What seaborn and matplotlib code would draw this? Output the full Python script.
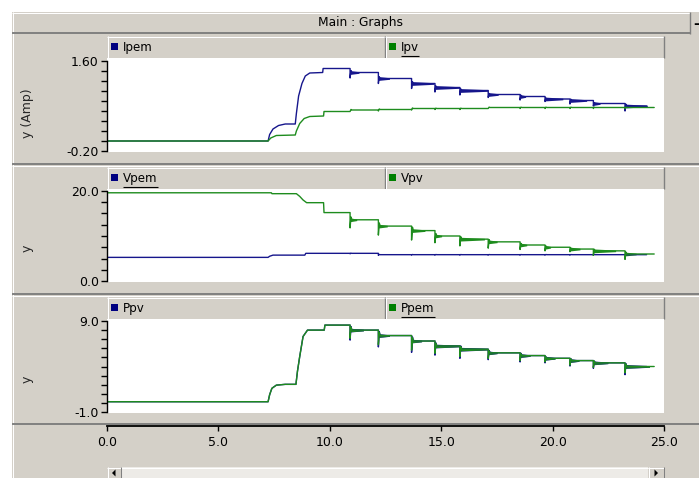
import numpy as np
import pandas as pd
import matplotlib
matplotlib.use("Agg")
import matplotlib.pyplot as plt
import seaborn as sns
from matplotlib.patches import Rectangle, Polygon

sns.set_style("white")
plt.rcParams["font.family"] = ["DejaVu Sans"]

# ---------------------------------------------------------------- data
# MPPT step instants (s) after start-up
STEP_T = [10.91, 12.18, 13.67, 14.72, 15.84, 17.11, 18.54, 19.66, 20.78, 21.83, 23.25]
END_BLUE = 24.22
END_GREEN = 24.56

# Currents (A)
IPEM_T0 = [0.0, 0.02, 7.23, 7.30, 7.45, 7.70, 8.00, 8.45, 8.50, 8.60, 8.75, 8.90, 9.10, 9.68, 9.70]
IPEM_V0 = [0.06, 0.00, 0.00, 0.13, 0.24, 0.31, 0.34, 0.34, 0.55, 0.90, 1.15, 1.30, 1.36, 1.37, 1.45]
IPEM_LV = [1.37, 1.25, 1.15, 1.07, 1.01, 0.93, 0.89, 0.84, 0.81, 0.75, 0.70]
IPEM_SP = [0.11, 0.10, 0.10, 0.09, 0.09, 0.06, 0.07, 0.05, 0.07, 0.05, 0.10]
IPEM_RP = [0.4, 0.5, 1.0, 1.1, 1.25, 0.45, 0.25, 0.8, 0.75, 0.3, 1.0]

IPV_T0 = [0.0, 7.23, 7.35, 7.60, 8.45, 8.50, 8.65, 8.85, 9.10, 9.72, 9.74]
IPV_V0 = [0.00, 0.00, 0.06, 0.11, 0.12, 0.20, 0.35, 0.45, 0.49, 0.50, 0.59]
IPV_LV = [0.62, 0.63, 0.65, 0.65, 0.65, 0.67, 0.67, 0.67, 0.67, 0.67, 0.67]
IPV_SP = [0.03, 0.03, 0.03, 0.02, 0.02, 0.02, 0.02, 0.02, 0.02, 0.02, 0.02]

# Voltages (V)
VPV_T0 = [0.0, 7.38, 7.40, 8.50, 8.65, 8.80, 8.96, 9.72, 9.74]
VPV_V0 = [19.6, 19.6, 19.4, 19.4, 18.8, 18.0, 17.4, 17.4, 15.2]
VPV_LV = [13.6, 12.2, 11.2, 10.0, 9.3, 8.7, 8.0, 7.5, 7.1, 6.7, 6.0]
VPV_SP = [1.8, 2.0, 2.1, 1.5, 1.5, 1.4, 1.0, 0.8, 0.6, 1.0, 1.2]
VPV_RP = [0.3, 0.4, 0.6, 0.3, 1.1, 0.4, 0.3, 0.25, 0.45, 1.0, 0.5]

VPEM_T0 = [0.0, 7.23, 7.30, 7.45, 8.88, 8.92]
VPEM_V0 = [5.25, 5.25, 5.50, 5.75, 5.75, 6.15]
VPEM_LV = [6.15, 5.85, 5.85, 5.85, 5.85, 5.85, 5.85, 5.85, 5.85, 5.85, 5.85]
VPEM_SP = [0.1, 0.15, 0.1, 0.1, 0.1, 0.1, 0.1, 0.1, 0.1, 0.1, 0.1]

# Powers (W)
PPV_T0 = [0.0, 0.03, 7.23, 7.30, 7.40, 7.60, 8.00, 8.48, 8.55, 8.65, 8.80, 9.00, 9.75, 9.78]
PPV_V0 = [0.30, 0.13, 0.13, 0.90, 1.60, 1.95, 2.04, 2.04, 3.50, 5.10, 7.30, 8.00, 8.00, 8.55]
PPV_LV = [8.0, 7.4, 6.8, 6.25, 5.9, 5.5, 5.2, 4.9, 4.65, 4.4, 4.0]
PPV_SP = [1.1, 1.25, 1.25, 1.0, 1.0, 0.75, 0.7, 0.5, 0.6, 0.6, 0.9]

PPEM_T0 = PPV_T0
PPEM_V0 = PPV_V0
PPEM_LV = [8.0, 7.4, 6.8, 6.25, 5.9, 5.5, 5.2, 4.9, 4.65, 4.4, 4.0]
PPEM_SP = [0.9, 1.0, 1.0, 0.8, 0.8, 0.6, 0.55, 0.4, 0.5, 0.5, 0.7]
P_RP = [0.6, 0.5, 0.45, 1.1, 1.25, 0.4, 0.45, 0.45, 0.4, 0.65, 1.1]

# ---------------------------------------------------------------- style
W, H = 699, 478
GRAY = "#D4D0C8"
DARK = "#808080"
BLUE = "#16168C"
GREEN = "#1E8C1E"
X0, X1 = 107, 664

fig = plt.figure(figsize=(W / 100, H / 100), dpi=100, facecolor="white")
bg = fig.add_axes([0, 0, 1, 1], zorder=0)
bg.set_xlim(0, W)
bg.set_ylim(H, 0)
bg.axis("off")


def px_axes(x0, y0, x1, y1, z=2):
    return fig.add_axes([x0 / W, 1 - y1 / H, (x1 - x0) / W, (y1 - y0) / H], zorder=z)


def hline(y, x0, x1, color, lw=0.75):
    bg.plot([x0, x1], [y, y], color=color, lw=lw, solid_capstyle="butt")


def vline(x, y0, y1, color, lw=0.75):
    bg.plot([x, x], [y0, y1], color=color, lw=lw, solid_capstyle="butt")


# window background and title bar
bg.add_patch(Rectangle((12, 12), W - 12, H - 12, fc=GRAY, ec="none"))
hline(12.5, 12, 690, "white")
vline(12.5, 12, H, "white")
hline(33, 12, 690, DARK, lw=1.4)
bg.text(360, 22.5, "Main : Graphs", ha="center", va="center", fontsize=8.8, color="black")
vline(690, 12, 34, DARK, lw=1.0)
bg.text(696, 23.5, "-", ha="center", va="center", fontsize=10, fontweight="bold", color="black")

# separators between panels
for ysep in (164, 294):
    hline(ysep, 12, W, DARK, lw=1.4)
    hline(ysep + 1.5, 12, W, "white")
hline(424, 12, W, DARK, lw=1.4)

# scroll bar
bg.add_patch(Rectangle((121, 467), 527, 12, fc="#EDEBE7", ec="none"))
hline(467.5, 121, 648, "white")
for bx0, bx1 in ((107, 121), (648, 664)):
    bg.add_patch(Rectangle((bx0, 467), bx1 - bx0, 12, fc=GRAY, ec="none"))
    hline(467.5, bx0, bx1, "white")
    vline(bx0 + 0.5, 467, H, "white")
    vline(bx1 - 0.5, 467, H, DARK)
bg.add_patch(Polygon([(112, 473), (115.5, 469.5), (115.5, 476.5)], closed=True, fc="black", ec="none"))
bg.add_patch(Polygon([(658, 473), (654.5, 469.5), (654.5, 476.5)], closed=True, fc="black", ec="none"))

under_texts = []


def legend_bar(y0, entries):
    y1 = y0 + 22
    for (tx0, tx1), (label, color, underline) in zip(((X0, 385), (385, X1)), entries):
        bg.add_patch(Rectangle((tx0, y0), tx1 - tx0, 22, fc=GRAY, ec="none"))
        hline(y0 + 0.5, tx0, tx1, "white")
        vline(tx0 + 0.5, y0, y1, "white")
        vline(tx1 - 0.5, y0, y1, DARK, lw=1.0)
        bg.add_patch(Rectangle((tx0 + 4, y0 + 7), 7, 7, fc=color, ec="none"))
        t = bg.text(tx0 + 16, y0 + 11.5, label, ha="left", va="center", fontsize=8.6, color="black")
        if underline:
            under_texts.append((t, y0 + 19.5))


def build(t0, v0, levels, spikes, t_end):
    t, v = list(t0), list(v0)
    for tk, lv, sp in zip(STEP_T, levels, spikes):
        prev = v[-1]
        t += [tk, tk, tk + 0.04, tk + 0.08]
        v += [prev, lv - sp, lv + 0.35 * sp, lv]
    t.append(t_end)
    v.append(v[-1])
    return pd.DataFrame({"t": t, "v": v})


def ripple(ax, levels, durs, px_per_unit, color):
    # settling oscillation after each step, drawn as a thin tapering band
    for tk, lv, d in zip(STEP_T, levels, durs):
        tt = np.linspace(tk, tk + d, 24)
        hw = np.linspace(1.9, 0.8, 24) / px_per_unit
        ax.fill_between(tt, lv - hw, lv + hw, color=color, lw=0)


def draw(ax, df, color):
    sns.lineplot(data=df, x="t", y="v", ax=ax, color=color, lw=1.0,
                 estimator=None, sort=False, legend=False)


def style(ax, ylim, ticks, labels):
    ax.set_facecolor("white")
    ax.set_xlim(0, 25)
    ax.set_ylim(*ylim)
    for s in ("top", "right", "bottom"):
        ax.spines[s].set_visible(False)
    ax.spines["left"].set_color("black")
    ax.spines["left"].set_linewidth(1.0)
    ax.spines["left"].set_bounds(ticks[0], ticks[-1])
    ax.set_yticks(ticks)
    ax.set_yticklabels(labels)
    ax.set_xticks([])
    ax.tick_params(axis="y", direction="out", length=4, width=1.0, color="black",
                   labelsize=9, pad=2, labelcolor="black", left=True)
    ax.set_xlabel("")
    ax.set_ylabel("")
    ax.grid(False)


def end_labels(ticks, fmt):
    return [fmt.format(v) if i in (0, len(ticks) - 1) else "" for i, v in enumerate(ticks)]


# ---------------------------------------------------------------- panel 1: currents
legend_bar(36, [("Ipem", "#000080", False), ("Ipv", "#008000", True)])
ax1 = px_axes(X0, 58, X1, 152)
draw(ax1, build(IPEM_T0, IPEM_V0, IPEM_LV, IPEM_SP, END_BLUE), BLUE)
ripple(ax1, IPEM_LV, IPEM_RP, 50.0, BLUE)
draw(ax1, build(IPV_T0, IPV_V0, IPV_LV, IPV_SP, END_GREEN), GREEN)
t1 = list(np.round(np.arange(-0.2, 1.61, 0.2), 2))
style(ax1, (-0.22, 1.66), t1, end_labels(t1, "{:.2f}"))
bg.text(27, 113, "y (Amp)", rotation=90, ha="center", va="center", fontsize=9)

# ---------------------------------------------------------------- panel 2: voltages
legend_bar(167, [("Vpem", "#000080", True), ("Vpv", "#008000", False)])
ax2 = px_axes(X0, 189, X1, 282)
draw(ax2, build(VPEM_T0, VPEM_V0, VPEM_LV, VPEM_SP, END_BLUE), BLUE)
draw(ax2, build(VPV_T0, VPV_V0, VPV_LV, VPV_SP, END_GREEN), GREEN)
ripple(ax2, VPV_LV, VPV_RP, 4.5, GREEN)
t2 = list(np.arange(0.0, 20.01, 2.5))
style(ax2, (-0.22, 20.44), t2, end_labels(t2, "{:.1f}"))
bg.text(27, 248, "y", rotation=90, ha="center", va="center", fontsize=9)

# ---------------------------------------------------------------- panel 3: powers
legend_bar(297, [("Ppv", "#000080", False), ("Ppem", "#008000", True)])
ax3 = px_axes(X0, 319, X1, 413)
draw(ax3, build(PPV_T0, PPV_V0, PPV_LV, PPV_SP, END_BLUE), BLUE)
ripple(ax3, PPV_LV, P_RP, 9.1, BLUE)
draw(ax3, build(PPEM_T0, PPEM_V0, PPEM_LV, PPEM_SP, END_GREEN), GREEN)
ripple(ax3, PPEM_LV, P_RP, 10.5, GREEN)
t3 = list(np.arange(-1.0, 9.01, 1.0))
style(ax3, (-1.11, 9.22), t3, end_labels(t3, "{:.1f}"))
bg.text(27, 379, "y", rotation=90, ha="center", va="center", fontsize=9)

# ---------------------------------------------------------------- shared time axis
axx = px_axes(X0, 416, X1, 426, z=3)
axx.patch.set_visible(False)
axx.set_xlim(0, 25)
axx.set_yticks([])
for s in ("top", "right", "left"):
    axx.spines[s].set_visible(False)
axx.spines["bottom"].set_color("black")
axx.spines["bottom"].set_linewidth(1.3)
xt = [0, 5, 10, 15, 20, 25]
axx.set_xticks(xt)
axx.set_xticklabels([f"{v:.1f}" for v in xt])
axx.tick_params(axis="x", direction="out", length=3.5, width=1.0, color="black",
                labelsize=9, pad=4, labelcolor="black", bottom=True)
axx.grid(False)

# underline the selected trace names
renderer = fig.canvas.get_renderer()
for txt, yu in under_texts:
    bb = txt.get_window_extent(renderer)
    hline(yu, bb.x0, bb.x1, "black", lw=0.8)

fig.savefig("out.png", dpi=100, facecolor="white")
